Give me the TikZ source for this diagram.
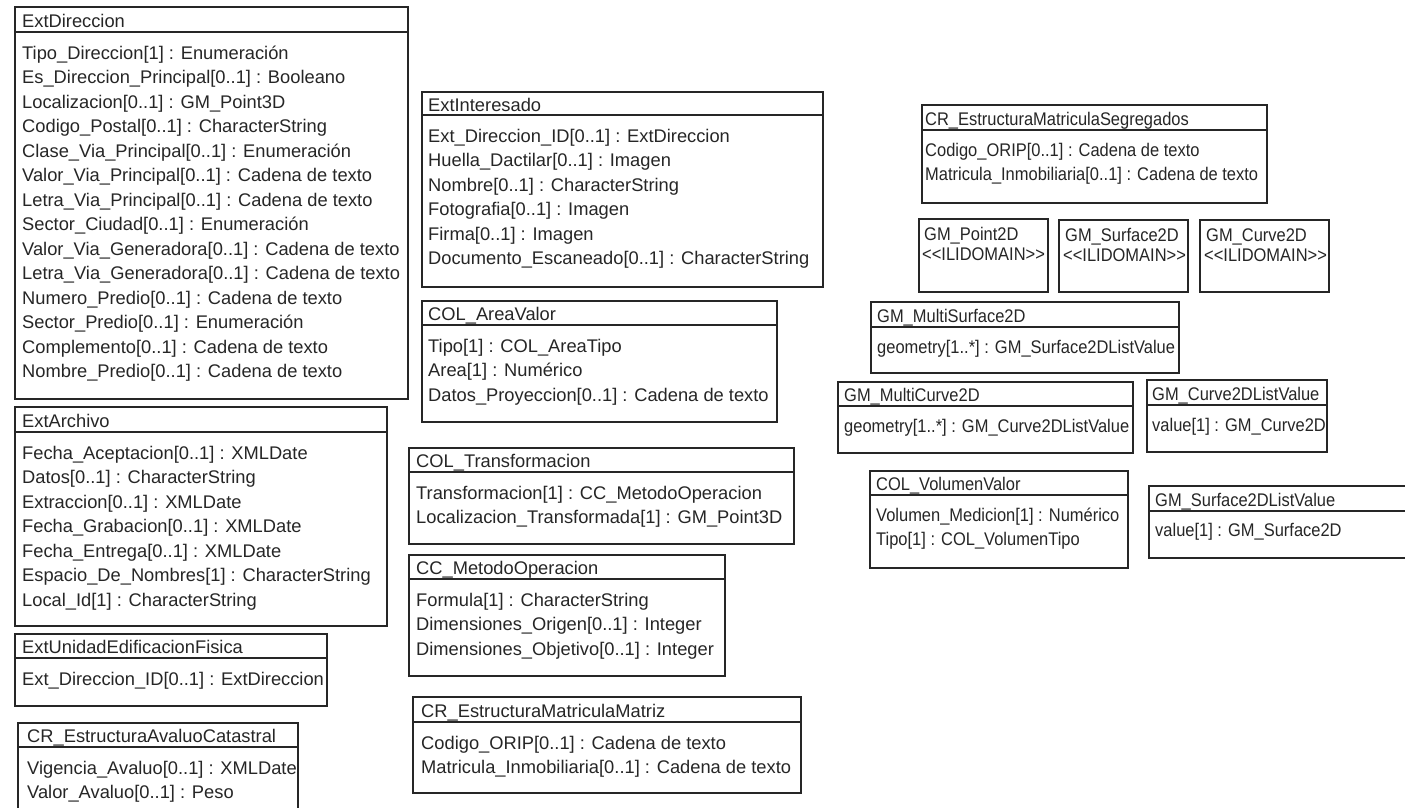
\documentclass[tikz,border=0pt]{standalone}
\usepackage{fontspec}
\setmainfont{Liberation Sans}
\newfontfamily\narrowsans{Liberation Sans}[FakeStretch=0.9]

% class box: [text style]{name}{left}{top}{right}{header}{bottom}{text x}{title}
\newcommand{\umlclass}[9][]{%
  \node[classbox, minimum width={(#5-#3)*1pt}, minimum height={(#7-#4)*1pt}] (#2) at (#3,#4) {};
  \draw[classline] (#3,#6) -- (#5,#6);
  \node[ctext,#1] (#2-title) at (#8,{(#4+#6)/2+7.5}) {#9};
}
% attribute rows: [text style]{class name}{x}{first baseline}{rows}
\newcommand{\umlattrs}[5][]{%
  \foreach \attrtext [count=\attrnum] in {#5}{%
    \node[ctext,#1] (#2-\attrnum) at (#3,{#4+(\attrnum-1)*24.5}) {\attrtext};
  }%
}
% domain box without compartment: [text style]{name}{left}{top}{right}{bottom}{text x}{title}
\newcommand{\umldomain}[8][]{%
  \node[classbox, minimum width={(#5-#3)*1pt}, minimum height={(#6-#4)*1pt}] (#2) at (#3,#4) {};
  \node[ctext,#1] (#2-title) at (#7,{#4+21}) {#8};
  \node[ctext,#1] (#2-stereo) at ({#7-2},{#4+41}) {<\kern0pt<ILIDOMAIN>\kern0pt>};
}

\begin{document}
\begin{tikzpicture}[x=1pt,y=-1pt,
  classline/.style={draw=black!85, line width=1.3pt},
  classbox/.style={classline, inner sep=0pt, outer sep=0pt, anchor=north west},
  ctext/.style={anchor=base west, inner sep=0pt, text=black!85,
    font=\fontsize{18.3}{22}\selectfont},
  rtext/.style={font=\narrowsans\fontsize{18.3}{22}\selectfont},
]
\useasboundingbox (0,0) rectangle (1405,807);
\fill[white] (0,0) rectangle (1405,807);
\clip (0,0) rectangle (1405,807);

% ---------- left column ----------
\umlclass{extdir}{15}{7}{408}{32}{399}{22}{ExtDireccion}
\umlattrs{extdir}{22}{59}{%
Tipo\_Direccion[1] : Enumeración,%
Es\_Direccion\_Principal[0..1] : Booleano,%
Localizacion[0..1] : GM\_Point3D,%
Codigo\_Postal[0..1] : CharacterString,%
Clase\_Via\_Principal[0..1] : Enumeración,%
Valor\_Via\_Principal[0..1] : Cadena de texto,%
Letra\_Via\_Principal[0..1] : Cadena de texto,%
Sector\_Ciudad[0..1] : Enumeración,%
Valor\_Via\_Generadora[0..1] : Cadena de texto,%
Letra\_Via\_Generadora[0..1] : Cadena de texto,%
Numero\_Predio[0..1] : Cadena de texto,%
Sector\_Predio[0..1] : Enumeración,%
Complemento[0..1] : Cadena de texto,%
Nombre\_Predio[0..1] : Cadena de texto}

\umlclass{extarch}{15}{407}{387}{432}{626}{22}{ExtArchivo}
\umlattrs{extarch}{22}{459}{%
Fecha\_Aceptacion[0..1] : XMLDate,%
Datos[0..1] : CharacterString,%
Extraccion[0..1] : XMLDate,%
Fecha\_Grabacion[0..1] : XMLDate,%
Fecha\_Entrega[0..1] : XMLDate,%
Espacio\_De\_Nombres[1] : CharacterString,%
Local\_Id[1] : CharacterString}

\umlclass{extunid}{15}{634}{327}{658}{706}{22}{ExtUnidadEdificacionFisica}
\umlattrs{extunid}{22}{685}{Ext\_Direccion\_ID[0..1] : ExtDireccion}

\umlclass{avaluo}{18}{723}{298}{747}{822}{27}{CR\_EstructuraAvaluoCatastral}
\umlattrs{avaluo}{27}{774}{%
Vigencia\_Avaluo[0..1] : XMLDate,%
Valor\_Avaluo[0..1] : Peso}

% ---------- middle column ----------
\umlclass{extint}{422}{92}{823}{115}{287}{428}{ExtInteresado}
\umlattrs{extint}{428}{142}{%
Ext\_Direccion\_ID[0..1] : ExtDireccion,%
Huella\_Dactilar[0..1] : Imagen,%
Nombre[0..1] : CharacterString,%
Fotografia[0..1] : Imagen,%
Firma[0..1] : Imagen,%
Documento\_Escaneado[0..1] : CharacterString}

\umlclass{areaval}{422}{301}{777}{325}{422}{428}{COL\_AreaValor}
\umlattrs{areaval}{428}{352}{%
Tipo[1] : COL\_AreaTipo,%
Area[1] : Numérico,%
Datos\_Proyeccion[0..1] : Cadena de texto}

\umlclass{transf}{409}{448}{794}{472}{544}{416}{COL\_Transformacion}
\umlattrs{transf}{416}{499}{%
Transformacion[1] : CC\_MetodoOperacion,%
Localizacion\_Transformada[1] : GM\_Point3D}

\umlclass{metodo}{409}{555}{725}{579}{676}{416}{CC\_MetodoOperacion}
\umlattrs{metodo}{416}{606}{%
Formula[1] : CharacterString,%
Dimensiones\_Origen[0..1] : Integer,%
Dimensiones\_Objetivo[0..1] : Integer}

\umlclass{matriz}{413}{697}{801}{722}{793}{421}{CR\_EstructuraMatriculaMatriz}
\umlattrs{matriz}{421}{749}{%
Codigo\_ORIP[0..1] : Cadena de texto,%
Matricula\_Inmobiliaria[0..1] : Cadena de texto}

% ---------- right column ----------
\umlclass[rtext]{segreg}{922}{105}{1267}{130}{203}{925}{CR\_EstructuraMatriculaSegregados}
\umlattrs[rtext]{segreg}{925}{156}{%
Codigo\_ORIP[0..1] : Cadena de texto,%
Matricula\_Inmobiliaria[0..1] : Cadena de texto}

\umldomain[rtext]{point}{919}{219}{1048}{292}{924}{GM\_Point2D}
\umldomain[rtext]{surf}{1059}{220}{1188}{292}{1065}{GM\_Surface2D}
\umldomain[rtext]{curve}{1200}{220}{1329}{292}{1206}{GM\_Curve2D}

\umlclass[rtext]{msurf}{871}{302}{1179}{327}{373}{877}{GM\_MultiSurface2D}
\umlattrs[rtext]{msurf}{877}{353}{geometry[1..*] : GM\_Surface2DListValue}

\umlclass[rtext]{mcurve}{838}{382}{1133}{406}{453}{844}{GM\_MultiCurve2D}
\umlattrs[rtext]{mcurve}{844}{432}{geometry[1..*] : GM\_Curve2DListValue}

\umlclass[rtext]{curvelist}{1147}{380}{1327}{405}{452}{1152}{GM\_Curve2DListValue}
\umlattrs[rtext]{curvelist}{1152}{431}{value[1] : GM\_Curve2D}

\umlclass[rtext]{volval}{870}{471}{1128}{495}{568}{876}{COL\_VolumenValor}
\umlattrs[rtext]{volval}{876}{521}{%
Volumen\_Medicion[1] : Numérico,%
Tipo[1] : COL\_VolumenTipo}

\umlclass[rtext]{surflist}{1149}{486}{1425}{511}{558}{1155}{GM\_Surface2DListValue}
\umlattrs[rtext]{surflist}{1155}{536}{value[1] : GM\_Surface2D}
\end{tikzpicture}
\end{document}
